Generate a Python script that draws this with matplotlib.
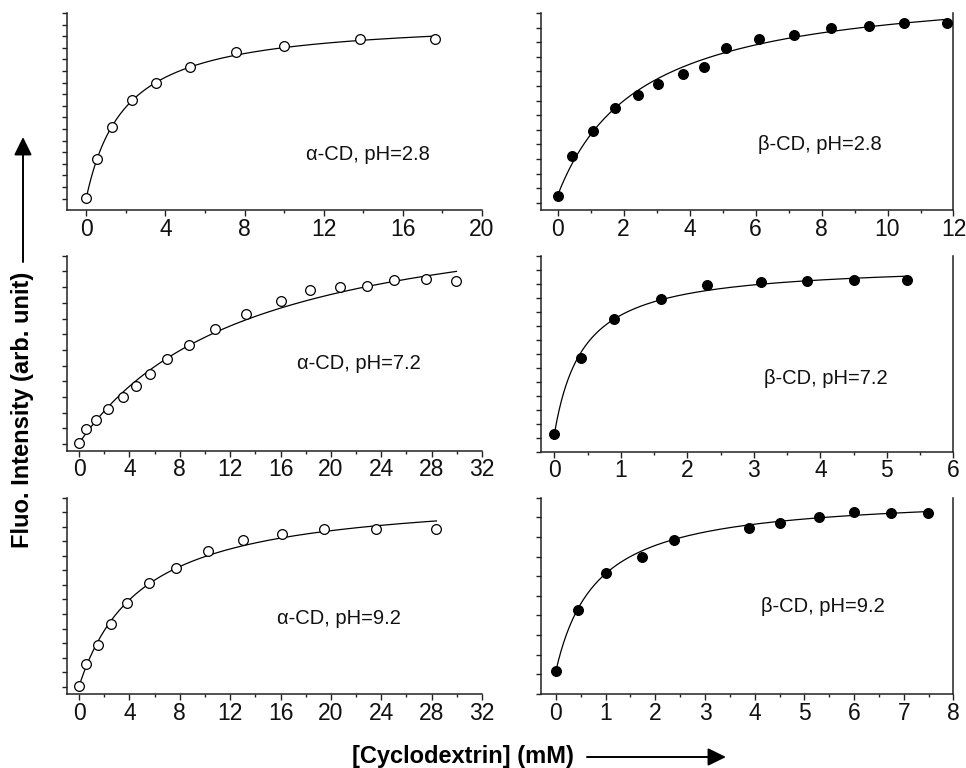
import numpy as np
import matplotlib
matplotlib.use("Agg")
import matplotlib.pyplot as plt
from matplotlib.ticker import MultipleLocator

plt.rcParams['font.family'] = ['Liberation Sans', 'DejaVu Sans']

# ---------------- data ----------------
alpha_28_x = [0, 0.54, 1.30, 2.31, 3.51, 5.23, 7.58, 9.99, 13.82, 17.6]
alpha_28_y = [0.03, 1.70, 3.10, 4.24, 5.00, 5.68, 6.34, 6.57, 6.87, 6.87]

beta_28_x = [0, 0.43, 1.09, 1.75, 2.45, 3.06, 3.80, 4.43, 5.12, 6.12, 7.16, 8.28, 9.43, 10.51, 11.79]
beta_28_y = [0.24, 1.59, 2.45, 3.25, 3.70, 4.07, 4.41, 4.66, 5.31, 5.60, 5.74, 6.00, 6.07, 6.17, 6.16]

alpha_72_x = [0, 0.53, 1.33, 2.31, 3.45, 4.54, 5.62, 7.0, 8.75, 10.82, 13.26, 16.05, 18.36, 20.69, 22.86, 25.01, 27.59, 29.97]
alpha_72_y = [0.03, 0.47, 0.78, 1.13, 1.51, 1.85, 2.23, 2.70, 3.15, 3.65, 4.15, 4.55, 4.91, 4.99, 5.04, 5.22, 5.26, 5.21]

beta_72_x = [0, 0.40, 0.90, 1.60, 2.30, 3.10, 3.80, 4.50, 5.30]
beta_72_y = [0.12, 2.85, 4.24, 4.94, 5.45, 5.55, 5.58, 5.62, 5.62]

alpha_92_x = [0, 0.56, 1.51, 2.57, 3.79, 5.52, 7.69, 10.24, 13.0, 16.15, 19.47, 23.58, 28.38]
alpha_92_y = [0.02, 0.77, 1.44, 2.14, 2.89, 3.56, 4.09, 4.66, 5.03, 5.25, 5.43, 5.44, 5.44]

beta_92_x = [0, 0.44, 1.01, 1.73, 2.37, 3.89, 4.50, 5.29, 6.0, 6.75, 7.49]
beta_92_y = [0.09, 1.65, 2.58, 2.99, 3.43, 3.73, 3.86, 4.02, 4.14, 4.11, 4.11]

# fitted 1:1 binding isotherm parameters (F0, dF, K)
fit_alpha_28 = (0.03, 7.75, 0.51)
fit_beta_28 = (0.24, 7.33, 0.398)
fit_alpha_72 = (0.03, 7.94, 0.0739)
fit_beta_72 = (0.12, 6.115, 2.29)
fit_alpha_92 = (0.02, 6.68, 0.2004)
fit_beta_92 = (0.09, 4.50, 1.223)

labels = ["\u03b1-CD, pH=2.8", "\u03b2-CD, pH=2.8",
          "\u03b1-CD, pH=7.2", "\u03b2-CD, pH=7.2",
          "\u03b1-CD, pH=9.2", "\u03b2-CD, pH=9.2"]

y_label = "Fluo. Intensity (arb. unit)"
x_label = "[Cyclodextrin] (mM)"

# ---------------- layout ----------------
W, H = 966, 768
fig = plt.figure(figsize=(W / 100, H / 100), dpi=100)

def add_ax(l, t, r, b):
    return fig.add_axes([l / W, 1 - b / H, (r - l) / W, (b - t) / H])

RR = 953.5
panels = [
    # (x, y, fit, filled, box(l,t,r,b), xlim, xmajor, ylim, label pos)
    (alpha_28_x, alpha_28_y, fit_alpha_28, False, (66.5, 13, 482, 210), (-1, 20), 4, (-0.49, 8.0), (0.576, 0.284)),
    (beta_28_x, beta_28_y, fit_beta_28, True, (541, 13, RR, 210), (-0.5, 12), 2, (-0.25, 6.5), (0.526, 0.33)),
    (alpha_72_x, alpha_72_y, fit_alpha_72, False, (66.5, 255.7, 482, 450.7), (-1, 32), 4, (-0.21, 6.0), (0.554, 0.445)),
    (beta_72_x, beta_72_y, fit_beta_72, True, (541, 255.7, RR, 451.7), (-0.2, 6), 1, (-0.5, 6.5), (0.54, 0.374)),
    (alpha_92_x, alpha_92_y, fit_alpha_92, False, (66.5, 497.7, 482, 694), (-1, 32), 4, (-0.25, 6.5), (0.506, 0.386)),
    (beta_92_x, beta_92_y, fit_beta_92, True, (541, 497.7, RR, 694), (-0.3, 8), 1, (-0.5, 4.5), (0.534, 0.445)),
]

spine_col = '#222222'
for (xs, ys, fit, filled, box, xlim, xmaj, ylim, lpos), lab in zip(panels, labels):
    ax = add_ax(*box)
    F0, dF, K = fit
    xc = np.linspace(0, xs[-1], 300)
    yc = F0 + dF * K * xc / (1 + K * xc)
    ax.plot(xc, yc, color='black', lw=0.9, zorder=2)
    ax.plot(xs, ys, 'o', ms=7.0, mec='black', mew=0.9,
            mfc='black' if filled else 'white', zorder=3)
    ax.set_xlim(*xlim)
    ax.set_ylim(*ylim)
    ax.xaxis.set_major_locator(MultipleLocator(xmaj))
    ax.xaxis.set_minor_locator(MultipleLocator(xmaj / 2))
    ax.yaxis.set_major_locator(MultipleLocator(0.5))
    ax.set_yticklabels([])
    ax.tick_params(axis='x', which='major', length=4, width=1, color=spine_col,
                   labelsize=16.5, pad=1.5, labelcolor='#111111')
    ax.tick_params(axis='x', which='minor', length=2.2, width=1, color=spine_col)
    ax.tick_params(axis='y', which='major', length=3.5, width=1, color=spine_col)
    ax.spines['top'].set_visible(False)
    ax.spines['right'].set_visible(filled)
    for s in ['left', 'bottom', 'right']:
        ax.spines[s].set_color(spine_col)
        ax.spines[s].set_linewidth(1.1)
    ax.text(lpos[0], lpos[1], lab, transform=ax.transAxes, ha='left', va='center',
            fontsize=14.5, color='#111111')

# axis labels with arrows
fig.text(23 / W, 1 - 410 / H, y_label, rotation=90, ha='center', va='center',
         fontsize=17, fontweight='bold')
fig.text(463 / W, 1 - 756 / H, x_label, ha='center', va='center',
         fontsize=17, fontweight='bold')

arrow_style = dict(arrowstyle='-|>,head_length=0.55,head_width=0.27',
                   mutation_scale=20, lw=1.4, color='black', shrinkA=0, shrinkB=0)
fig.add_artist(matplotlib.patches.FancyArrowPatch(
    (23 / W, 1 - 262 / H), (23 / W, 1 - 137 / H), transform=fig.transFigure, **arrow_style))
fig.add_artist(matplotlib.patches.FancyArrowPatch(
    (587 / W, 1 - 757 / H), (726 / W, 1 - 757 / H), transform=fig.transFigure, **arrow_style))

fig.savefig('out.png', dpi=100)
